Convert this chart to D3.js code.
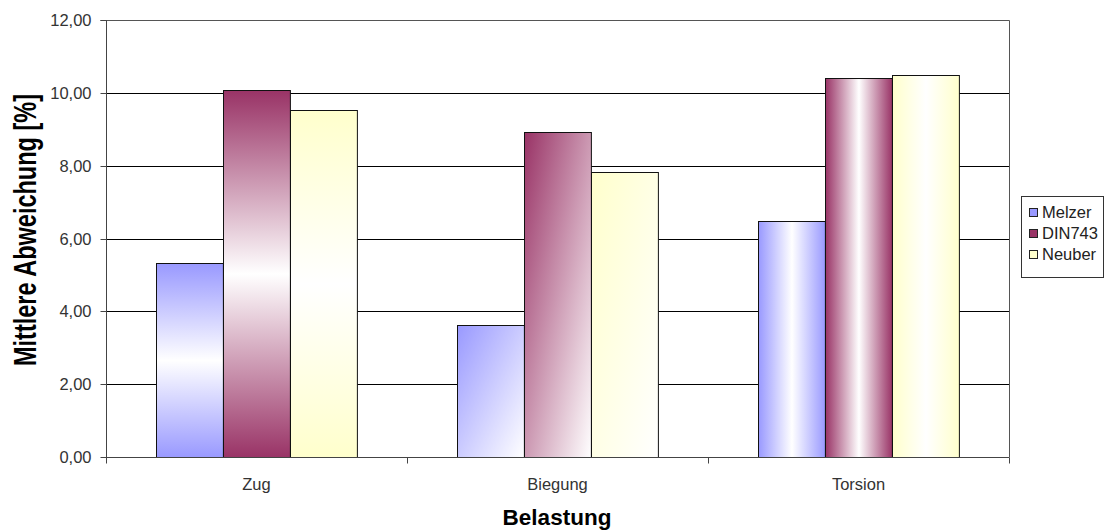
<!DOCTYPE html>
<html>
<head>
<meta charset="utf-8">
<script src="https://cdn.jsdelivr.net/npm/d3@7"></script>
<style>
  html, body { margin: 0; padding: 0; background: #fff; }
  svg { display: block; font-family: "Liberation Sans", Arial, sans-serif; }
</style>
</head>
<body>
<svg id="chart" width="1105" height="532"></svg>
<script>
// Load cases along the x axis
const categories = ["Zug", "Biegung", "Torsion"];
// Methods compared
const seriesNames = ["Melzer", "DIN743", "Neuber"];
// Mean deviation in percent, one array per method (Zug, Biegung, Torsion)
const melzer = [5.32, 3.62, 6.47];
const din743 = [10.08, 8.92, 10.42];
const neuber = [9.53, 7.83, 10.49];
const seriesValues = [melzer, din743, neuber];
// Y axis tick values
const yTicks = [0, 2, 4, 6, 8, 10, 12];

const colors = ["#9999FF", "#993366", "#FFFFCC"];
// Fill style per load case: top/bottom fade, diagonal fade, left/right fade
const fillStyles = ["vertical", "diagonal", "horizontal"];

const svg = d3.select("#chart");
const plot = { left: 106, right: 1009, top: 20, bottom: 457 };

const y = d3.scaleLinear().domain([0, 12]).range([plot.bottom, plot.top]);
const x0 = d3.scaleBand().domain(categories).range([plot.left, plot.right]).padding(0);
const x1 = d3.scaleBand().domain(seriesNames).range([0, x0.bandwidth()])
  .paddingInner(0).paddingOuter(0.75);

const locale = d3.formatLocale({ decimal: ",", thousands: ".", grouping: [3], currency: ["", " €"] });
const fmt = locale.format(".2f");

// Gradients
const defs = svg.append("defs");
categories.forEach((c, ci) => {
  seriesNames.forEach((s, si) => {
    const style = fillStyles[ci];
    const g = defs.append("linearGradient").attr("id", `g-${ci}-${si}`);
    if (style === "vertical") {
      g.attr("x1", 0).attr("y1", 0).attr("x2", 0).attr("y2", 1);
      g.append("stop").attr("offset", 0).attr("stop-color", colors[si]);
      g.append("stop").attr("offset", 0.5).attr("stop-color", "#fff");
      g.append("stop").attr("offset", 1).attr("stop-color", colors[si]);
    } else if (style === "horizontal") {
      g.attr("x1", 0).attr("y1", 0).attr("x2", 1).attr("y2", 0);
      g.append("stop").attr("offset", 0).attr("stop-color", colors[si]);
      g.append("stop").attr("offset", 0.5).attr("stop-color", "#fff");
      g.append("stop").attr("offset", 1).attr("stop-color", colors[si]);
    } else {
      g.attr("x1", 0).attr("y1", 0).attr("x2", 1).attr("y2", 1);
      g.append("stop").attr("offset", 0).attr("stop-color", colors[si]);
      g.append("stop").attr("offset", 1).attr("stop-color", "#fff");
    }
  });
});

// Gridlines
svg.append("g").selectAll("line").data(yTicks.filter(t => t > 0)).join("line")
  .attr("x1", plot.left).attr("x2", plot.right)
  .attr("y1", d => Math.round(y(d)) + 0.5).attr("y2", d => Math.round(y(d)) + 0.5)
  .attr("stroke", "#000").attr("stroke-width", 1);

// Plot area border (top, right)
svg.append("path")
  .attr("d", `M${plot.left},${plot.top + 0.5}H${plot.right + 0.5}V${plot.bottom}`)
  .attr("fill", "none").attr("stroke", "#555").attr("stroke-width", 1);

// Bars
const groups = svg.append("g").selectAll("g").data(categories).join("g")
  .attr("transform", d => `translate(${x0(d)},0)`);
groups.selectAll("rect")
  .data((c, ci) => seriesNames.map((s, si) => ({ ci, si, s, v: seriesValues[si][ci] })))
  .join("rect")
  .attr("x", d => Math.round(x1(d.s)) + 0.5)
  .attr("width", x1.bandwidth())
  .attr("y", d => Math.round(y(d.v)) + 0.5)
  .attr("height", d => Math.round(y(0)) - Math.round(y(d.v)))
  .attr("fill", d => `url(#g-${d.ci}-${d.si})`)
  .attr("stroke", "#111").attr("stroke-width", 1);

// Y axis
const yAxis = d3.axisLeft(y).tickValues(yTicks).tickFormat(fmt).tickSize(6).tickPadding(9);
const ya = svg.append("g").attr("transform", `translate(${plot.left + 0.5},0)`).call(yAxis);
ya.select(".domain").attr("stroke", "#444").attr("d", `M-6,${plot.top + 0.5}H0V${plot.bottom + 0.5}`);
ya.selectAll(".tick line").attr("stroke", "#444");
ya.selectAll(".tick").attr("transform", d => `translate(0,${Math.round(y(d)) + 0.5})`);
ya.selectAll("text").attr("font-size", 16.5).attr("fill", "#333")
  .attr("font-family", "Liberation Sans, Arial, sans-serif");

// X axis
const xa = svg.append("g").attr("transform", `translate(0,${plot.bottom + 0.5})`);
xa.append("line").attr("x1", plot.left).attr("x2", plot.right + 0.5)
  .attr("stroke", "#444");
const bounds = [plot.left, ...categories.map(c => x0(c) + x0.bandwidth())];
xa.selectAll("line.tk").data(bounds).join("line").attr("class", "tk")
  .attr("x1", d => Math.round(d) + 0.5).attr("x2", d => Math.round(d) + 0.5)
  .attr("y1", 0).attr("y2", 6).attr("stroke", "#444");
xa.selectAll("text").data(categories).join("text")
  .attr("x", d => x0(d) + x0.bandwidth() / 2)
  .attr("y", 32)
  .attr("text-anchor", "middle")
  .attr("font-size", 16.5).attr("fill", "#333")
  .text(d => d);

// Axis titles
svg.append("text")
  .attr("x", 557).attr("y", 525)
  .attr("text-anchor", "middle")
  .attr("font-size", 22.5).attr("font-weight", "bold").attr("fill", "#000")
  .text("Belastung");
svg.append("text")
  .attr("transform", "translate(36,230) rotate(-90) scale(1,1.3)")
  .attr("text-anchor", "middle")
  .attr("font-size", 23.5).attr("font-weight", "bold").attr("fill", "#000")
  .text("Mittlere Abweichung [%]");

// Legend
const leg = svg.append("g");
leg.append("rect").attr("x", 1021.5).attr("y", 196.5).attr("width", 82).attr("height", 81)
  .attr("fill", "#fff").attr("stroke", "#333");
const items = leg.selectAll("g").data(seriesNames).join("g")
  .attr("transform", (d, i) => `translate(1029,${208 + i * 21})`);
items.append("rect").attr("x", 0.5).attr("y", 0.5).attr("width", 8).attr("height", 8)
  .attr("fill", (d, i) => colors[i]).attr("stroke", "#222");
items.append("text").attr("x", 13).attr("y", 10)
  .attr("font-size", 16.5).attr("fill", "#222").text(d => d);
</script>
</body>
</html>
